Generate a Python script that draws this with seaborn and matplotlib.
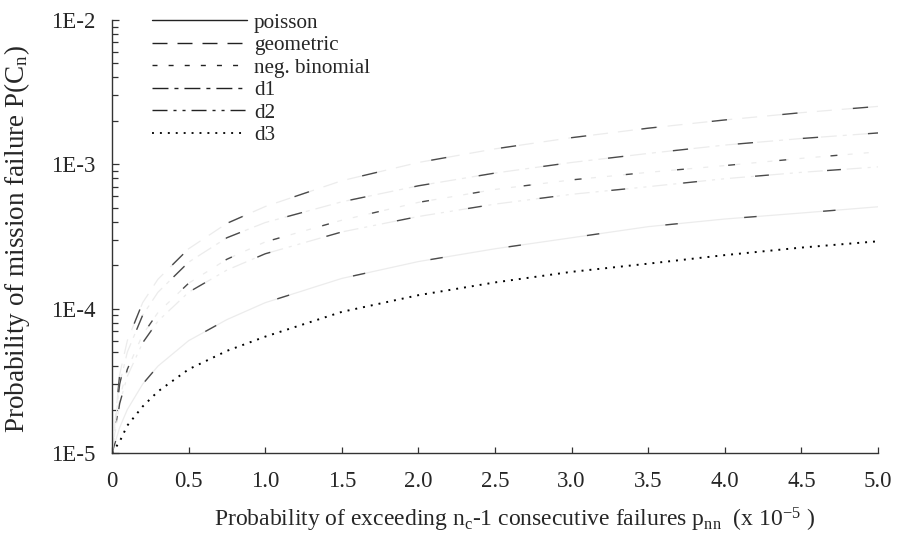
import matplotlib
matplotlib.use("Agg")
import matplotlib.pyplot as plt
import seaborn as sns
import pandas as pd
from matplotlib.lines import Line2D
from matplotlib.ticker import LogLocator, FixedLocator, FixedFormatter, NullFormatter

# ---------------- data ----------------
x_vals = [0.0, 0.05, 0.1, 0.2, 0.3, 0.5, 0.75, 1.0, 1.5, 2.0, 2.5, 3.0, 3.5, 4.0, 4.5, 5.0]

geometric = [1.0e-5, 3.5e-5, 6.0e-5, 1.1e-4, 1.6e-4, 2.6e-4, 3.9e-4, 5.1e-4, 7.7e-4,
             1.03e-3, 1.28e-3, 1.53e-3, 1.78e-3, 2.03e-3, 2.28e-3, 2.52e-3]
d1 = [1.0e-5, 3.0e-5, 5.0e-5, 9.0e-5, 1.3e-4, 2.1e-4, 3.1e-4, 3.95e-4, 5.5e-4,
      7.1e-4, 8.7e-4, 1.03e-3, 1.19e-3, 1.36e-3, 1.51e-3, 1.65e-3]
neg_binomial = [1.0e-5, 2.4e-5, 3.8e-5, 6.6e-5, 9.4e-5, 1.5e-4, 2.2e-4, 2.9e-4, 4.1e-4,
                5.45e-4, 6.7e-4, 7.8e-4, 8.8e-4, 9.8e-4, 1.1e-3, 1.22e-3]
d2 = [1.0e-5, 2.2e-5, 3.4e-5, 5.8e-5, 8.2e-5, 1.3e-4, 1.85e-4, 2.4e-4, 3.4e-4,
      4.35e-4, 5.3e-4, 6.2e-4, 7.0e-4, 7.95e-4, 8.8e-4, 9.6e-4]
poisson = [1.0e-5, 1.5e-5, 2.0e-5, 3.0e-5, 4.0e-5, 6.0e-5, 8.4e-5, 1.1e-4, 1.62e-4,
           2.12e-4, 2.6e-4, 3.1e-4, 3.7e-4, 4.18e-4, 4.6e-4, 5.08e-4]
d3 = [1.0e-5, 1.2e-5, 1.55e-5, 2.1e-5, 2.67e-5, 3.8e-5, 5.1e-5, 6.4e-5, 9.5e-5,
      1.24e-4, 1.52e-4, 1.8e-4, 2.05e-4, 2.35e-4, 2.65e-4, 2.93e-4]

legend_labels = ["poisson", "geometric", "neg. binomial", "d1", "d2", "d3"]
x_tick_labels = ["0", "0.5", "1.0", "1.5", "2.0", "2.5", "3.0", "3.5", "4.0", "4.5", "5.0"]
y_tick_labels = ["1E-5", "1E-4", "1E-3", "1E-2"]

# ---------------- style ----------------
sns.set_style("white")
plt.rcParams["font.family"] = ["Liberation Serif", "DejaVu Serif"]
plt.rcParams["mathtext.fontset"] = "custom"
plt.rcParams["mathtext.rm"] = "Liberation Serif"
plt.rcParams["mathtext.it"] = "Liberation Serif:italic"
plt.rcParams["lines.scale_dashes"] = False
FS = 16.5
LFS = 15.2

dash_styles = {
    "poisson": "-",
    "geometric": (0, (10.8, 7.2)),
    "neg. binomial": (0, (3.6, 8.0)),
    "d1": (0, (11.5, 4.3, 2.9, 4.3)),
    "d2": (0, (10.8, 4.3, 2.2, 4.3, 2.2, 4.3)),
    "d3": (0, (1.4, 4.3)),
}

df = pd.DataFrame({"x": x_vals, "poisson": poisson, "geometric": geometric,
                   "neg. binomial": neg_binomial, "d1": d1, "d2": d2, "d3": d3})

fig = plt.figure(figsize=(9.09, 5.36), dpi=100)
ax = fig.add_axes([112 / 909, 1 - 453 / 536, 766 / 909, 433 / 536])

faint = "#ececec"
sparse = {"poisson": (0, (9, 48)), "geometric": (7, (11, 40)), "neg. binomial": (15, (5, 32)),
          "d1": (3, (11, 36)), "d2": (20, (10, 42))}
for name in ["poisson", "geometric", "neg. binomial", "d1", "d2"]:
    sns.lineplot(data=df, x="x", y=name, ax=ax, color=faint, lw=0.9,
                 linestyle=dash_styles[name])
    sns.lineplot(data=df, x="x", y=name, ax=ax, color="#4a4a4a", lw=1.0,
                 linestyle=sparse[name])
sns.lineplot(data=df, x="x", y="d3", ax=ax, color="black", lw=1.4,
             linestyle=dash_styles["d3"])

ax.set_yscale("log")
ax.set_xlim(0, 5.0)
ax.set_ylim(1e-5, 1e-2)

ax.xaxis.set_major_locator(FixedLocator([0, 0.5, 1, 1.5, 2, 2.5, 3, 3.5, 4, 4.5, 5]))
ax.xaxis.set_major_formatter(FixedFormatter(x_tick_labels))
ax.yaxis.set_major_locator(FixedLocator([1e-5, 1e-4, 1e-3, 1e-2]))
ax.yaxis.set_major_formatter(FixedFormatter(y_tick_labels))
ax.yaxis.set_minor_locator(LogLocator(base=10, subs=range(2, 10)))
ax.yaxis.set_minor_formatter(NullFormatter())

ax.tick_params(axis="x", which="major", direction="in", length=4, width=0.9,
               pad=13, labelsize=FS, bottom=True, color="#333333")
ax.tick_params(axis="y", which="major", direction="in", length=5, width=0.9,
               pad=12, labelsize=FS, left=True, color="#333333")
ax.tick_params(axis="y", which="minor", direction="in", length=4, width=0.9,
               left=True, color="#333333")

for s in ["top", "right"]:
    ax.spines[s].set_visible(False)
for s in ["left", "bottom"]:
    ax.spines[s].set_color("#333333")
    ax.spines[s].set_linewidth(1.0)

ax.set_xlabel(r"Probability of exceeding n$_{\mathregular{c}}$-1 consecutive failures "
              r"p$_{\mathregular{nn}}$  (x 10$^{\mathregular{-5}}$ )", fontsize=17)
ax.xaxis.set_label_coords((515 - 112) / 766, (453 - 506) / 433)
ax.set_ylabel(r"Probability of mission failure P(C$_{\mathregular{n}}$)", fontsize=19.5)
ax.yaxis.set_label_coords((32 - 112) / 766, 0.495)

handles = [Line2D([], [], color="#222222", lw=1.0, linestyle=dash_styles[n])
           for n in legend_labels]
handles[-1] = Line2D([], [], color="black", lw=1.3, linestyle=dash_styles["d3"])
ax.legend(handles, legend_labels, loc="upper left", frameon=False, fontsize=LFS,
          bbox_to_anchor=(152 / 909, 1 - 13 / 536), bbox_transform=fig.transFigure,
          borderpad=0, borderaxespad=0, handlelength=4.5, handletextpad=0.33,
          labelspacing=0.13)

fig.savefig("out.png", dpi=100)
